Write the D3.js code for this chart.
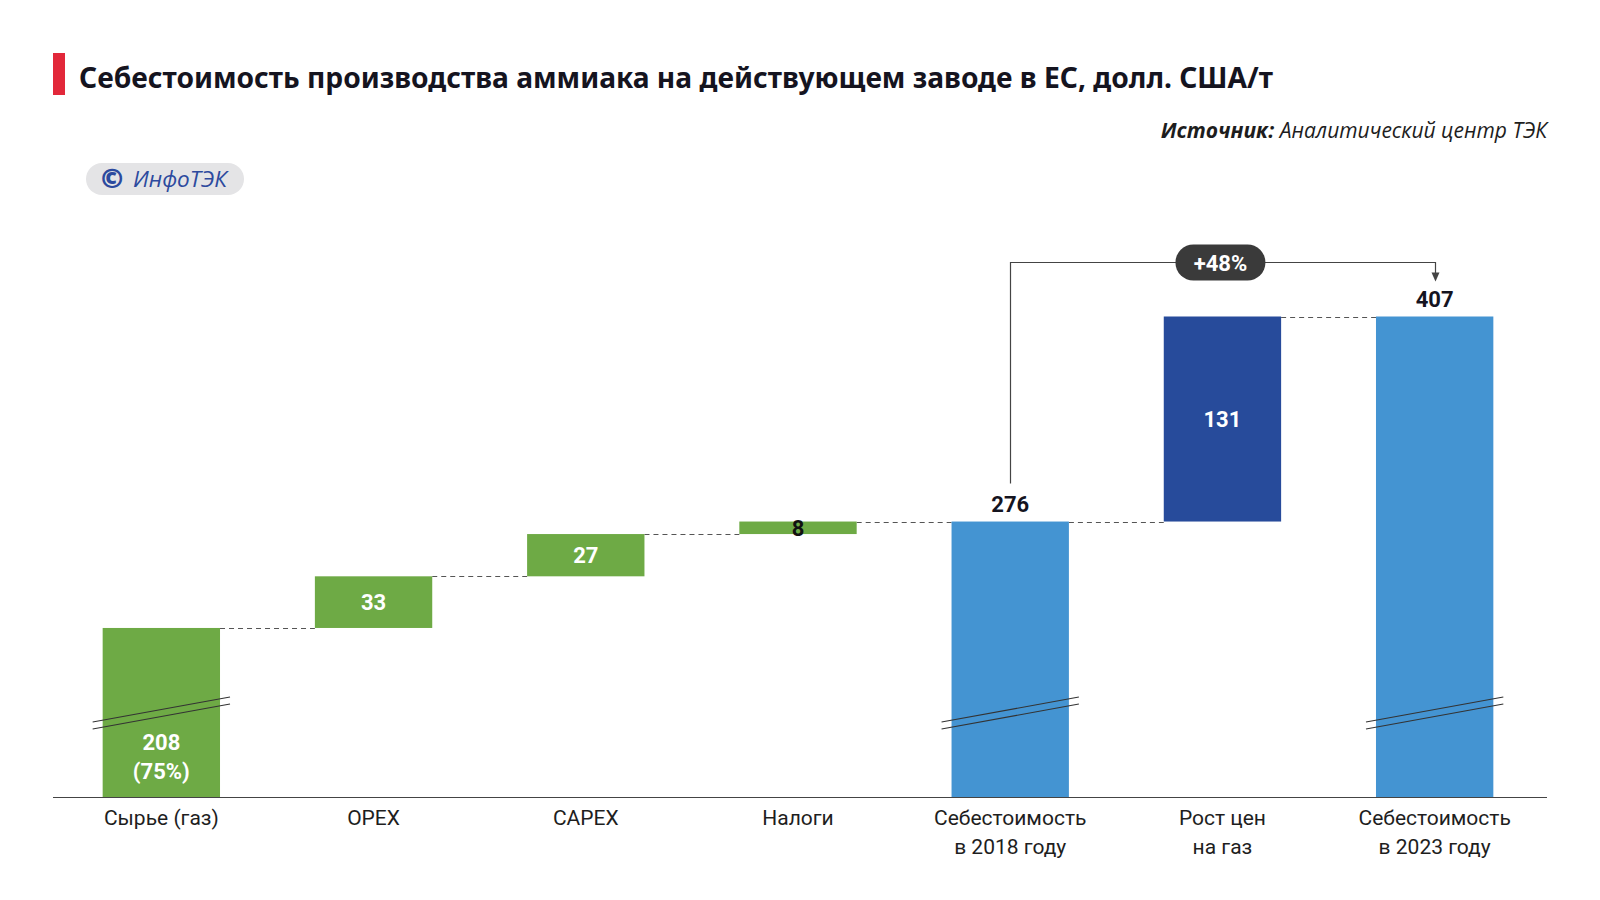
<!DOCTYPE html>
<html>
<head>
<meta charset="utf-8">
<script src="https://cdn.jsdelivr.net/npm/d3@7"></script>
<style>
  html, body { margin: 0; padding: 0; background: #fff; }
  svg { display: block; }
</style>
</head>
<body>
<div id="chart"></div>
<script>
/* --------------------------------------------------------------
ДАННЫЕ
-------------------------------------------------------------- */

const CATEGORIES = [
    ["Сырье (газ)"],
    ["OPEX"],
    ["CAPEX"],
    ["Налоги"],
    ["Себестоимость", "в 2018 году"],
    ["Рост цен", "на газ"],
    ["Себестоимость", "в 2023 году"]
];
const VALUES = [208, 33, 27, 8, 276, 131, 407];
const KINDS = ["start", "step", "step", "step", "total", "gas", "total"];
const SHARE_LABEL = "(75%)";
const GROWTH_LABEL = "+48%";

const TITLE = "Себестоимость производства аммиака на действующем заводе в ЕС, долл. США/т";
const SOURCE_BOLD = "Источник:";
const SOURCE_TEXT = " Аналитический центр ТЭК";

const COLORS = {
    start: "#6eaa45",
    step: "#6eaa45",
    total: "#4494d2",
    gas: "#274b9b"
};

/* --------------------------------------------------------------
РАЗМЕТКА
-------------------------------------------------------------- */

const W = 1600, H = 900;
const left = 53, right = 1547;
const barsRight = 1543;
const baseline = 797;
const Y_MIN = 100;   // ось с разрывом

const svg = d3.select("#chart").append("svg")
    .attr("width", W).attr("height", H);

// заголовок
svg.append("rect").attr("x", 53).attr("y", 53).attr("width", 12).attr("height", 42).attr("fill", "#e2283a");
svg.append("text").attr("x", 79).attr("y", 88)
    .attr("font-family", "Noto Sans, sans-serif").attr("font-weight", 700)
    .attr("font-size", 28.2).attr("fill", "#15141f")
    .text(TITLE);

// источник
const src = svg.append("text").attr("x", right).attr("y", 138).attr("text-anchor", "end")
    .attr("font-family", "Open Sans, sans-serif").attr("font-style", "italic")
    .attr("font-size", 21).attr("fill", "#1d1d1d");
src.append("tspan").attr("font-weight", 700).text(SOURCE_BOLD);
src.append("tspan").text(SOURCE_TEXT);

// логотип
svg.append("rect").attr("x", 86).attr("y", 163).attr("width", 158).attr("height", 32)
    .attr("rx", 16).attr("fill", "#e4e4e6");
svg.append("text").attr("x", 101).attr("y", 188)
    .attr("font-family", "Open Sans, sans-serif").attr("font-weight", 800)
    .attr("font-size", 27).attr("fill", "#2c4a9e")
    .text("\u00A9");
svg.append("text").attr("x", 133).attr("y", 187)
    .attr("font-family", "Open Sans, sans-serif").attr("font-style", "italic")
    .attr("font-size", 22.5).attr("fill", "#2c4a9e")
    .text("ИнфоТЭК");

/* --------------------------------------------------------------
ВОДОПАД
-------------------------------------------------------------- */

let running = 0;
const bars = VALUES.map((v, i) => {
    const kind = KINDS[i];
    let lo, hi;
    if (kind === "total") { lo = 0; hi = v; running = v; }
    else { lo = running; hi = running + v; running = hi; }
    return { i, v, kind, lo, hi, label: CATEGORIES[i] };
});

const x = d3.scaleBand()
    .domain(d3.range(VALUES.length))
    .range([left, barsRight])
    .paddingInner(0.447)
    .paddingOuter(0.234);

const y = d3.scaleLinear()
    .domain([Y_MIN, d3.max(bars, d => d.hi)])
    .range([baseline, 316.5])
    .clamp(true);

const cx = d => x(d.i) + x.bandwidth() / 2;

// соединительные пунктиры
svg.append("g").selectAll("line")
    .data(bars.slice(0, -1))
    .join("line")
    .attr("x1", d => x(d.i) + x.bandwidth())
    .attr("x2", d => x(d.i + 1))
    .attr("y1", d => Math.round(y(d.hi)) + 0.5)
    .attr("y2", d => Math.round(y(d.hi)) + 0.5)
    .attr("stroke", "#555").attr("stroke-width", 1.2)
    .attr("stroke-dasharray", "5,4");

svg.append("g").selectAll("rect")
    .data(bars)
    .join("rect")
    .attr("x", d => x(d.i))
    .attr("width", x.bandwidth())
    .attr("y", d => y(d.hi))
    .attr("height", d => y(d.lo) - y(d.hi))
    .attr("fill", d => COLORS[d.kind]);

// знаки разрыва
const breakBars = bars.filter(d => d.lo === 0);
const br = svg.append("g").selectAll("g").data(breakBars).join("g")
    .attr("transform", d => `translate(${cx(d)},${baseline - 84})`);
const bw = x.bandwidth() / 2 + 10;
[-3.5, 3.5].forEach(off => {
    br.append("line")
        .attr("x1", -bw).attr("x2", bw)
        .attr("y1", 12.5 + off).attr("y2", -12.5 + off)
        .attr("stroke", "#333").attr("stroke-width", 1.1);
});

// ось
svg.append("line").attr("x1", left).attr("x2", right)
    .attr("y1", baseline + 0.5).attr("y2", baseline + 0.5)
    .attr("stroke", "#444").attr("stroke-width", 1.2);

// подписи категорий
const cat = svg.append("g").selectAll("text").data(bars).join("text")
    .attr("x", cx)
    .attr("y", 825)
    .attr("text-anchor", "middle")
    .attr("font-family", "Roboto, sans-serif").attr("font-size", 21)
    .attr("fill", "#1e1e1e");
cat.selectAll("tspan").data(d => d.label.map(t => ({ t, c: cx(d) })))
    .join("tspan")
    .attr("x", t => t.c)
    .attr("dy", (t, k) => k === 0 ? 0 : 28.5)
    .text(t => t.t);

// подписи значений
const vf = "Roboto, sans-serif";
bars.forEach(d => {
    const g = svg.append("text").attr("x", cx(d)).attr("text-anchor", "middle")
        .attr("font-family", vf).attr("font-weight", 700).attr("font-size", 22);
    if (d.kind === "total") {
        g.attr("y", y(d.hi) - 10).attr("fill", "#15141f").text(d.v);
    } else if (d.kind === "start") {
        g.attr("y", 750).attr("fill", "#fff").text(d.v);
        svg.append("text").attr("x", cx(d)).attr("y", 779).attr("text-anchor", "middle")
            .attr("font-family", vf).attr("font-weight", 700).attr("font-size", 22)
            .attr("fill", "#fff").text(SHARE_LABEL);
    } else {
        const h = y(d.lo) - y(d.hi);
        const dark = h < 20;
        g.attr("y", (y(d.lo) + y(d.hi)) / 2 + 8).attr("fill", dark ? "#111" : "#fff").text(d.v);
    }
});

/* --------------------------------------------------------------
АННОТАЦИЯ РОСТА
-------------------------------------------------------------- */

const from = bars[4], to = bars[6];
const fx = Math.round(cx(from)) + 0.5;
const tx = Math.round(cx(to)) + 0.5;
const topY = 262.5;

svg.append("path")
    .attr("d", `M${fx},${y(from.hi) - 38} V${topY} H${tx} V${y(to.hi) - 40}`)
    .attr("fill", "none").attr("stroke", "#444").attr("stroke-width", 1.2);
svg.append("path")
    .attr("d", `M${tx - 4},${y(to.hi) - 44} L${tx + 4},${y(to.hi) - 44} L${tx},${y(to.hi) - 35} Z`)
    .attr("fill", "#444");

const pillX = cx(bars[5]) - 2;
svg.append("rect").attr("x", pillX - 45).attr("y", topY - 18).attr("width", 90).attr("height", 36)
    .attr("rx", 18).attr("fill", "#3a3a3a");
svg.append("text").attr("x", pillX).attr("y", topY + 8).attr("text-anchor", "middle")
    .attr("font-family", vf).attr("font-weight", 700).attr("font-size", 22)
    .attr("fill", "#fff").text(GROWTH_LABEL);
</script>
</body>
</html>
